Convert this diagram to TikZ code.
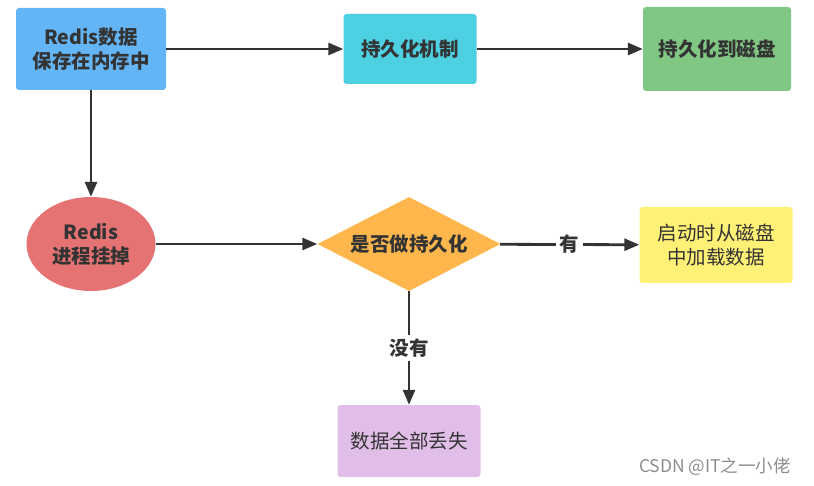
\documentclass[tikz,border=0pt]{standalone}
\usepackage{fontspec}
\setmainfont{Noto Sans CJK SC}
\usetikzlibrary{shapes.geometric,arrows.meta}

\definecolor{memblue}{HTML}{64B5F6}
\definecolor{mechcyan}{HTML}{4DD0E1}
\definecolor{diskgreen}{HTML}{81C784}
\definecolor{crashred}{HTML}{E57373}
\definecolor{askorange}{HTML}{FFB74D}
\definecolor{loadyellow}{HTML}{FFF176}
\definecolor{lostpurple}{HTML}{E1BEE7}
\definecolor{ink}{HTML}{333333}

\tikzstyle{box}=[rectangle, rounded corners=3pt, text=ink, align=center, font=\fontsize{19.5}{24}\selectfont]
\tikzstyle{bold}=[font=\bfseries\fontsize{19.5}{24}\selectfont]
\tikzstyle{edge} = [draw=ink, line width=2.8pt, -{Triangle[length=15pt,width=12pt]}]
\tikzstyle{tag}=[fill=white, text=ink, inner sep=4pt, font=\bfseries\fontsize{19.5}{24}\selectfont]

\begin{document}
\begin{tikzpicture}[x=1pt, y=-1pt]
	    \useasboundingbox (0,0) rectangle (814,486);
	    \node[box, bold, fill=memblue, minimum width=150pt, minimum height=82pt] (mem) at (91,49) {Redis数据\\保存在内存中};
	    \node[box, bold, fill=mechcyan, minimum width=133pt, minimum height=70pt] (mech) at (410,49) {持久化机制};
	    \node[box, bold, fill=diskgreen, minimum width=148pt, minimum height=84pt] (disk) at (717,49) {持久化到磁盘};
	    \node[ellipse, bold, fill=crashred, text=ink, align=center, inner sep=0pt, minimum width=129pt, minimum height=94pt] (crash) at (91,244) {Redis\\进程挂掉};
	    \node[diamond, aspect=1.95, bold, fill=askorange, text=ink, inner sep=0pt, minimum width=183pt, minimum height=94pt] (ask) at (409,244) {是否做持久化};
	    \node[box, fill=loadyellow, minimum width=153pt, minimum height=76pt] (load) at (716,245) {启动时从磁盘\\中加载数据};
	    \node[box, fill=lostpurple, minimum width=143pt, minimum height=72pt] (lost) at (409,441) {数据全部丢失};
	    \node[text=black!45, font=\fontsize{17.5}{20}\selectfont] (mark) at (715,467) {CSDN @IT之一小佬};
	    \foreach \source/ \dest in {mem/mech, mech/disk, mem/crash, crash/ask}
			\path[edge] (\source) -- (\dest);
	    \path[edge] (ask) -- node[tag] {有} (load);
	    \path[edge] (ask) -- node[tag] {没有} (lost);
	\end{tikzpicture}
\end{document}
